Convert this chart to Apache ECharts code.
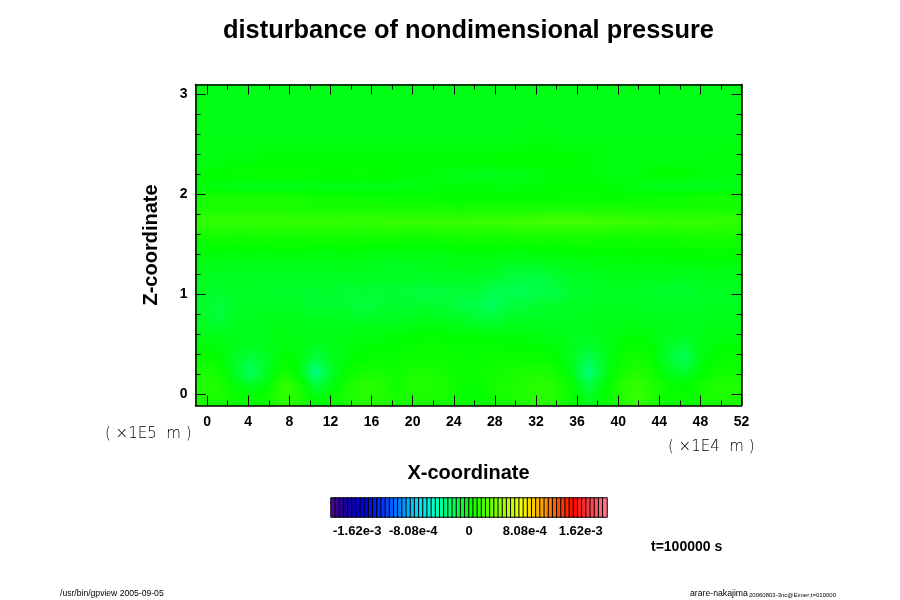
<!DOCTYPE html>
<html><head><meta charset="utf-8">
<style>html,body{margin:0;padding:0;background:#fff}#c{width:900px;height:600px}</style>
<script src="https://cdn.jsdelivr.net/npm/echarts@6/dist/echarts.min.js"></script>
</head><body><div id="c"></div>
<script>
// Values are in units of 1e-5
const xCenters=[-0.35,1.2,2.8,4.3,5.9,7.5,9,10.6,12.1,13.7,15.3,16.8,18.4,19.9,21.5,23.1,24.6,26.2,27.7,29.3,30.9,32.4,34,35.5,37.1,38.7,40.2,41.8,43.3,44.9,46.5,48,49.6,51.2];
const zCenters=[-0.04,0.09,0.23,0.36,0.5,0.63,0.77,0.9,1.03,1.17,1.3,1.44,1.6,1.74,1.86,1.97,2.08,2.2,2.34,2.51,2.65,2.78,2.92,3.05];
const field=[
[8,8,3,1,4,14,10,-1,1,8,12,10,6,8,8,6,3,1,4,7,10,13,10,3,-8,0,10,17,10,3,2,5,8,8],
[10,9,0,-8,0,16,8,-14,-3,8,13,11,5,10,10,7,3,1,5,8,10,13,10,2,-16,-2,10,16,10,2,0,5,9,9],
[8,5,-10,-24,-8,6,-2,-34,-10,2,6,6,3,7,7,5,3,3,5,6,8,8,5,-4,-32,-8,5,10,6,-6,-10,-2,5,5],
[3,0,-8,-15,-8,0,-2,-16,-7,-2,1,2,2,3,3,3,2,2,3,3,3,3,0,-7,-20,-8,2,6,2,-12,-22,-4,1,2],
[-2,-3,-6,-8,-6,-3,-4,-7,-6,-3,-2,-1,0,1,2,2,1,1,1,0,0,-1,-3,-6,-11,-6,-1,2,-1,-9,-14,-5,-2,-1],
[-7,-7,-6,-7,-6,-4,-5,-5,-5,-5,-4,-4,-3,-2,-1,-1,-3,-3,-4,-3,-4,-5,-6,-7,-7,-5,-4,-2,-4,-5,-6,-6,-4,-4],
[-9,-14,-8,-7,-6,-6,-6,-7,-7,-8,-10,-8,-8,-7,-6,-7,-9,-12,-14,-9,-9,-8,-8,-7,-6,-6,-6,-6,-6,-7,-6,-7,-6,-6],
[-10,-15,-9,-9,-8,-8,-9,-12,-11,-12,-15,-12,-11,-11,-11,-12,-17,-18,-24,-15,-14,-11,-10,-8,-8,-7,-7,-7,-8,-8,-8,-8,-7,-8],
[-9,-10,-9,-9,-10,-11,-11,-12,-11,-13,-12,-13,-12,-14,-16,-14,-13,-13,-18,-20,-20,-18,-16,-12,-10,-8,-8,-8,-10,-11,-12,-9,-8,-8],
[-7,-8,-8,-8,-8,-8,-8,-8,-8,-8,-8,-8,-8,-9,-9,-8,-8,-8,-11,-14,-16,-16,-12,-9,-8,-7,-6,-6,-6,-6,-7,-7,-6,-7],
[-5,-5,-6,-6,-6,-6,-6,-6,-6,-5,-6,-7,-8,-7,-6,-6,-4,-5,-5,-8,-8,-8,-6,-5,-5,-3,-3,-3,-3,-3,-3,-3,-2,-3],
[-2,-1,-2,-1,-2,-1,-1,-2,-2,-1,-2,-2,-3,-3,-2,-3,-1,-1,-1,-2,-2,0,-1,0,0,0,0,1,0,1,1,1,2,1],
[6,7,6,6,7,6,6,7,7,7,6,7,7,6,6,7,7,8,7,7,8,8,8,8,8,7,7,7,7,6,7,8,8,8],
[15,15,15,16,16,16,16,16,16,15,15,16,17,17,17,17,17,18,18,19,19,21,21,21,21,19,19,18,17,16,17,16,15,15],
[8,8,8,8,8,8,7,6,6,7,7,7,6,6,6,6,5,6,6,6,6,7,7,7,7,7,7,6,6,6,6,6,6,6],
[7,8,8,8,8,8,7,5,4,4,3,3,2,2,2,1,1,1,1,1,1,1,1,1,1,1,1,2,2,3,4,6,6,5],
[-3,-4,-6,-6,-6,-6,-6,-5,-5,-5,-6,-5,-5,-4,-3,-2,-2,-2,-2,-3,-2,-1,-1,0,0,-1,-2,-4,-6,-7,-7,-7,-7,-6],
[-1,1,2,3,3,3,3,2,1,1,2,1,0,-1,-2,-3,-5,-6,-6,-6,-5,-3,-2,-1,-2,-3,-4,-3,0,1,0,-2,-3,-3],
[-4,-3,-2,-2,-1,-1,-1,-1,-1,-1,-1,-1,-1,-1,-1,-1,-1,0,0,1,1,1,1,0,-1,-3,-4,-4,-4,-4,-4,-3,-2,-2],
[-4,-4,-4,-4,-4,-4,-4,-4,-4,-4,-4,-4,-4,-4,-4,-4,-4,-4,-3,-3,-3,-2,-3,-3,-3,-3,-4,-4,-4,-4,-4,-4,-4,-3],
[-5,-5,-5,-5,-5,-5,-5,-5,-5,-5,-5,-5,-5,-5,-5,-5,-5,-5,-5,-5,-5,-4,-5,-5,-5,-5,-5,-5,-5,-5,-5,-5,-5,-5],
[-5,-5,-5,-5,-5,-5,-5,-5,-5,-5,-5,-5,-5,-5,-5,-5,-5,-5,-5,-5,-5,-5,-5,-5,-5,-5,-5,-5,-5,-5,-5,-5,-5,-5],
[-5,-5,-5,-5,-5,-5,-5,-5,-5,-5,-5,-5,-5,-5,-5,-5,-5,-5,-5,-5,-5,-5,-5,-5,-5,-5,-5,-5,-5,-5,-5,-5,-5,-5],
[-5,-5,-5,-5,-5,-5,-5,-5,-5,-5,-5,-5,-5,-5,-5,-5,-5,-5,-5,-5,-5,-5,-5,-5,-5,-5,-5,-5,-5,-5,-5,-5,-5,-5]
];
const levels=[-195,-189,-183,-177,-171,-165,-159,-153,-147,-141,-135,-129,-123,-117,-111,-105,-99,-93,-87,-81,-75,-69,-63,-57,-51,-45,-39,-33,-27,-21,-15,-9,-3,3,9,15,21,27,33,39,45,51,57,63,69,75,81,87,93,99,105,111,117,123,129,135,141,147,153,159,165,171,177,183,189,195];
const xTicks=[0,4,8,12,16,20,24,28,32,36,40,44,48,52];
const xMinor=[2,6,10,14,18,22,26,30,34,38,42,46,50];
const zTicks=[0,1,2,3];
const zMinor=[0.2,0.4,0.6,0.8,1.2,1.4,1.6,1.8,2.2,2.4,2.6,2.8];
const barTicks=[-162,-80.8,0,80.8,162];
const barLabels=['-1.62e-3','-8.08e-4','0','8.08e-4','1.62e-3'];
const colors=['#5a00aa','#140096','#0000e6','#002fff','#0083ff','#00d7ff','#00ffca','#00ff65','#00ff00','#51ff00','#a1ff00','#f2ff00','#ffb700','#ff5c00','#ff0700','#ff414b','#ff8296'];

const XMIN=-1.13,XMAX=52,ZMIN=-0.11,ZMAX=3.1;
const VMIN=-200,VMAX=200;
const sans='"Liberation Sans",Arial,sans-serif';
const mainData=[];
field.forEach((row,j)=>row.forEach((v,i)=>mainData.push([xCenters[i],zCenters[j],v,i,j])));
const barData=levels.map((v,i)=>[i,0,v]);

function shade(v){return echarts.color.lerp((v-VMIN)/(VMAX-VMIN),colors);}
const nX=xCenters.length,nZ=zCenters.length;
// Paint the stretch from this sample to the next one, blending the shade between samples as the reference does.
function renderCell(params,api){
  const i=api.value(3),j=api.value(4);
  const x0=i===0?XMIN:xCenters[i],x1=i===nX-1?XMAX:xCenters[i+1];
  const z0=j===0?ZMIN:zCenters[j],z1=j===nZ-1?ZMAX:zCenters[j+1];
  const pA=api.coord([x0,z0]),pB=api.coord([x1,z1]);
  const nx=Math.max(1,Math.round(Math.abs(pB[0]-pA[0])/3)),nz=Math.max(1,Math.round(Math.abs(pB[1]-pA[1])/3));
  const kids=[];
  const I1=Math.min(i+1,nX-1),J1=Math.min(j+1,nZ-1);
  const cx0=xCenters[i],cx1=xCenters[I1],cz0=zCenters[j],cz1=zCenters[J1];
  for(let a=0;a<nx;a++){for(let b=0;b<nz;b++){
    const xa=x0+(x1-x0)*a/nx,xb=x0+(x1-x0)*(a+1)/nx,za=z0+(z1-z0)*b/nz,zb=z0+(z1-z0)*(b+1)/nz;
    const xm=(xa+xb)/2,zm=(za+zb)/2;
    let u=cx1>cx0?(xm-cx0)/(cx1-cx0):0,w=cz1>cz0?(zm-cz0)/(cz1-cz0):0;
    u=Math.max(0,Math.min(1,u));w=Math.max(0,Math.min(1,w));
    const v=(1-u)*(1-w)*field[j][i]+u*(1-w)*field[j][I1]+(1-u)*w*field[J1][i]+u*w*field[J1][I1];
    const p=api.coord([xa,za]),q=api.coord([xb,zb]);
    const L=Math.floor(Math.min(p[0],q[0])),R=Math.ceil(Math.max(p[0],q[0])),T=Math.floor(Math.min(p[1],q[1])),B=Math.ceil(Math.max(p[1],q[1]));
    kids.push({type:'rect',silent:true,shape:{x:L,y:T,width:R-L,height:B-T},style:{fill:shade(v)}});
  }}
  return {type:'group',silent:true,children:kids};
}

function tickAxis(min,max,pos,vals,len,labels,margin,line){return {type:'value',gridIndex:0,position:pos,min:min,max:max,z:10,splitLine:{show:false},
  axisLine:{show:!!line,onZero:false,lineStyle:{color:'#000',width:1.5}},
  axisTick:{show:true,inside:true,length:len,customValues:vals,lineStyle:{color:'#000',width:1}},
  axisLabel:labels?{show:true,customValues:vals,margin:margin,color:'#000',fontFamily:sans,fontWeight:'bold',fontSize:14}:{show:false}};}

const xb=tickAxis(XMIN,XMAX,'bottom',xTicks,10,true,10,true);
xb.name='X-coordinate';xb.nameLocation='middle';xb.nameGap=58;
xb.nameTextStyle={color:'#000',fontFamily:sans,fontWeight:'bold',fontSize:20};
const zl=tickAxis(ZMIN,ZMAX,'left',zTicks,10,true,8,true);
zl.name='Z-coordinate';zl.nameLocation='middle';zl.nameGap=34;zl.nameRotate=90;
zl.nameTextStyle={color:'#000',fontFamily:sans,fontWeight:'bold',fontSize:20};

function txt(x,y,s,size,weight,family){return {type:'text',left:x,top:y,silent:true,style:{text:s,fontSize:size,fontWeight:weight||'normal',fontFamily:family||sans,fill:'#000'}};}
const thin='"DejaVu Sans Light","DejaVu Sans"';

const chart=echarts.init(document.getElementById('c'),null,{renderer:'canvas'});
chart.setOption({
  animation:false,backgroundColor:'#fff',
  title:{text:'disturbance of nondimensional pressure',left:463.5,top:13,textAlign:'center',textStyle:{fontFamily:sans,fontWeight:'bold',fontSize:25.4,color:'#000'}},
  grid:[{left:195.5,top:84.5,width:546,height:321,containLabel:false},{left:331,top:498,width:276,height:19,containLabel:false}],
  xAxis:[
    xb,
    tickAxis(XMIN,XMAX,'bottom',xMinor,5,false),tickAxis(XMIN,XMAX,'top',xTicks,10,false,0,true),tickAxis(XMIN,XMAX,'top',xMinor,5,false),
    {type:'category',gridIndex:1,show:false,data:levels},
    {type:'value',gridIndex:1,position:'bottom',min:VMIN,max:VMAX,splitLine:{show:false},axisLine:{show:false},axisTick:{show:false},
      axisLabel:{show:true,customValues:barTicks,margin:8,color:'#000',fontFamily:sans,fontWeight:'bold',fontSize:13,
        formatter:v=>barLabels[barTicks.indexOf(v)]}}
  ],
  yAxis:[
    zl,
    tickAxis(ZMIN,ZMAX,'left',zMinor,5,false),tickAxis(ZMIN,ZMAX,'right',zTicks,10,false,0,true),tickAxis(ZMIN,ZMAX,'right',zMinor,5,false),
    {type:'category',gridIndex:1,show:false,data:['bar']}
  ],
  visualMap:{type:'continuous',show:false,min:VMIN,max:VMAX,seriesIndex:1,inRange:{color:colors}},
  series:[
    {type:'custom',xAxisIndex:0,yAxisIndex:0,data:mainData,renderItem:renderCell,silent:true,progressive:0,encode:{x:0,y:1}},
    {type:'heatmap',xAxisIndex:4,yAxisIndex:4,data:barData,progressive:0,silent:true,itemStyle:{borderWidth:1,borderColor:'#000'},emphasis:{disabled:true}}
  ],
  graphic:[
    txt(105,427,'( \u00d71E5  m )',15,'normal',thin),
    txt(668,440,'( \u00d71E4  m )',15,'normal',thin),
    txt(651,540,'t=100000 s',14,'bold'),
    txt(60,589,'/usr/bin/gpview 2005-09-05',8.6),
    txt(690,589,'arare-nakajima',8.7),
    txt(749,592,'20060803-3nc@Exner;t=010000',6)
  ]
});
</script></body></html>
